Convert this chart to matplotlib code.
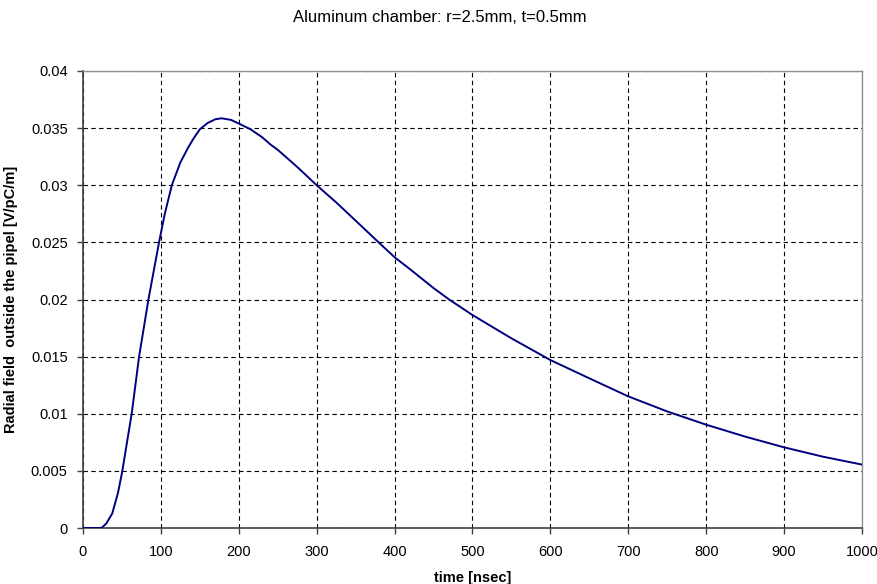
import matplotlib
matplotlib.use("Agg")
import matplotlib.pyplot as plt

plt.rcParams['font.family'] = ['Liberation Sans', 'DejaVu Sans']

time_ns = [0, 10, 20, 24, 30, 37.6, 45, 50.5, 56, 62.5, 72, 84, 97.6, 105, 114,
           125, 135, 142, 150, 160, 170, 178, 190, 200, 215, 230, 241, 250, 275,
           300, 325, 350, 379.5, 400, 420, 450, 470, 500, 550, 600, 650, 700,
           750, 800, 850, 900, 950, 1000]
field = [0, 0, 0, 0.00002, 0.0004, 0.00128, 0.0031, 0.005, 0.0073, 0.01, 0.015,
         0.02, 0.025, 0.0275, 0.030, 0.0320, 0.0333, 0.0341, 0.0349, 0.03545,
         0.03578, 0.03586, 0.03572, 0.0354, 0.0349, 0.0342, 0.03355, 0.0331,
         0.0316, 0.0300, 0.0285, 0.0269, 0.0250, 0.0237, 0.02264, 0.0210,
         0.0200, 0.01864, 0.0166, 0.0147, 0.0131, 0.01152, 0.0102, 0.00904,
         0.0080, 0.00706, 0.00624, 0.00555]

x_ticks = [0, 100, 200, 300, 400, 500, 600, 700, 800, 900, 1000]
y_ticks = [0, 0.005, 0.01, 0.015, 0.02, 0.025, 0.03, 0.035, 0.04]
y_labels = ["0", "0.005", "0.01", "0.015", "0.02", "0.025", "0.03", "0.035", "0.04"]

fig = plt.figure(figsize=(8.78, 5.84), dpi=100)
ax = fig.add_axes([83/878, 1-528/584, (862-83)/878, (528-71)/584])

ax.plot(time_ns, field, color='#000080', lw=1.4, zorder=3)

ax.set_xlim(0, 1000)
ax.set_ylim(0, 0.04)
ax.set_xticks(x_ticks)
ax.set_xticklabels([str(v) for v in x_ticks])
ax.set_yticks(y_ticks)
ax.set_yticklabels(y_labels)
ax.grid(True, color='black', linestyle=(0, (4, 3)), linewidth=0.8)
ax.tick_params(axis='both', labelsize=10.5, direction='out', length=4,
               width=1, color='#404040')
ax.tick_params(axis='x', pad=8)
ax.tick_params(axis='y', pad=7)

for s in ['top', 'right']:
    ax.spines[s].set_color('#909090')
    ax.spines[s].set_linewidth(1)
for s in ['left', 'bottom']:
    ax.spines[s].set_color('#404040')
    ax.spines[s].set_linewidth(1.2)

ax.set_xlabel('time [nsec]', fontsize=10.5, fontweight='bold', labelpad=9)
ax.set_ylabel('Radial field  outside the pipel [V/pC/m]', fontsize=10.5,
              fontweight='bold')
ax.yaxis.set_label_coords(-(83 - 18) / 779, 0.5)
fig.text(440/878, 1-17/584, 'Aluminum chamber: r=2.5mm, t=0.5mm',
         ha='center', va='center', fontsize=12)

fig.savefig('out.png', dpi=100)
